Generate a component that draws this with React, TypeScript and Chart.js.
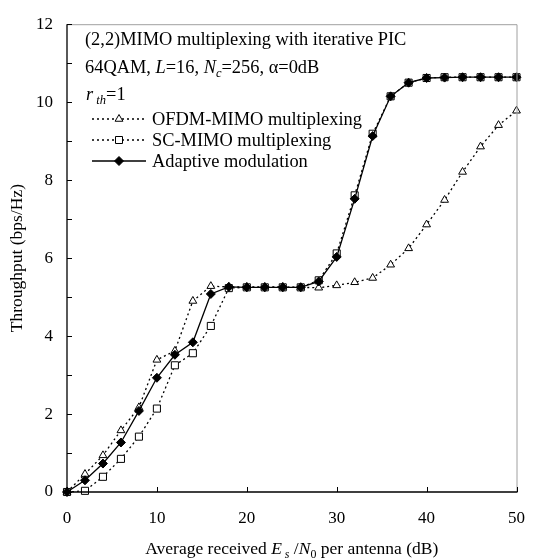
import React, { useEffect, useRef } from 'react';
import { Chart, registerables } from 'chart.js';
Chart.register(...registerables);

const snr = [0, 2, 4, 6, 8, 10, 12, 14, 16, 18, 20, 22, 24, 26, 28, 30, 32, 34, 36, 38, 40, 42, 44, 46, 48, 50];
const ofdm = [0, 0.46, 0.94, 1.58, 2.17, 3.39, 3.62, 4.9, 5.28, 5.26, 5.26, 5.26, 5.26, 5.25, 5.24, 5.3, 5.38, 5.49, 5.83, 6.25, 6.86, 7.49, 8.21, 8.86, 9.41, 9.78];
const sc = [0, 0.03, 0.39, 0.85, 1.42, 2.14, 3.25, 3.56, 4.26, 5.23, 5.25, 5.25, 5.25, 5.25, 5.43, 6.12, 7.61, 9.19, 10.15, 10.5, 10.62, 10.64, 10.64, 10.64, 10.64, 10.64];
const adaptive = [0, 0.3, 0.73, 1.27, 2.08, 2.93, 3.52, 3.84, 5.08, 5.26, 5.25, 5.25, 5.25, 5.25, 5.4, 6.03, 7.52, 9.13, 10.15, 10.5, 10.62, 10.63, 10.64, 10.64, 10.64, 10.64];
const xTickValues = [0, 10, 20, 30, 40, 50];
const yTickLabels = [0, 2, 4, 6, 8, 10, 12];
const legendLabels = ['OFDM-MIMO multiplexing', 'SC-MIMO multiplexing', 'Adaptive modulation'];

const SERIF = '"Liberation Serif", "Times New Roman", serif';

type Run = { t: string; i?: boolean; sub?: boolean };

function drawRuns(ctx: CanvasRenderingContext2D, runs: Run[], x: number, y: number, size: number, align: 'left' | 'center' = 'left') {
  const fontFor = (r: Run) => `${r.i ? 'italic ' : ''}${r.sub ? size * 0.68 : size}px ${SERIF}`;
  let total = 0;
  for (const r of runs) {
    ctx.font = fontFor(r);
    total += ctx.measureText(r.t).width;
  }
  let cx = align === 'center' ? x - total / 2 : x;
  ctx.textAlign = 'left';
  ctx.textBaseline = 'alphabetic';
  for (const r of runs) {
    ctx.font = fontFor(r);
    ctx.fillText(r.t, cx, r.sub ? y + size * 0.2 : y);
    cx += ctx.measureText(r.t).width;
  }
}

function drawMarker(ctx: CanvasRenderingContext2D, kind: number, x: number, y: number) {
  ctx.save();
  ctx.lineWidth = 1;
  ctx.strokeStyle = '#000';
  ctx.setLineDash([]);
  ctx.beginPath();
  if (kind === 0) {
    const r = 4.5;
    ctx.moveTo(x, y - r);
    ctx.lineTo(x + r * 0.866, y + r * 0.5);
    ctx.lineTo(x - r * 0.866, y + r * 0.5);
    ctx.closePath();
    ctx.fillStyle = '#fff';
    ctx.fill();
    ctx.stroke();
  } else if (kind === 1) {
    const s = 3.5;
    ctx.rect(x - s, y - s, 2 * s, 2 * s);
    ctx.fillStyle = '#fff';
    ctx.fill();
    ctx.stroke();
  } else {
    const r = 4.5;
    ctx.moveTo(x, y - r);
    ctx.lineTo(x + r, y);
    ctx.lineTo(x, y + r);
    ctx.lineTo(x - r, y);
    ctx.closePath();
    ctx.fillStyle = '#000';
    ctx.fill();
    ctx.stroke();
  }
  ctx.restore();
}

const decorPlugin = {
  id: 'decor',
  beforeDraw(chart: any) {
    const ctx = chart.ctx as CanvasRenderingContext2D;
    ctx.save();
    ctx.fillStyle = '#fff';
    ctx.fillRect(0, 0, chart.width, chart.height);
    ctx.restore();
  },
  afterDraw(chart: any) {
    const ctx = chart.ctx as CanvasRenderingContext2D;
    const { left, right, top, bottom } = chart.chartArea;
    const xs = chart.scales.x;
    const ys = chart.scales.y;
    ctx.save();
    ctx.strokeStyle = '#a0a0a0';
    ctx.lineWidth = 1;
    ctx.beginPath();
    ctx.moveTo(left, top + 0.5);
    ctx.lineTo(right + 0.5, top + 0.5);
    ctx.lineTo(right + 0.5, bottom);
    ctx.stroke();
    ctx.strokeStyle = '#000';
    ctx.lineWidth = 1.3;
    ctx.beginPath();
    ctx.moveTo(left, top);
    ctx.lineTo(left, bottom);
    ctx.lineTo(right + 1, bottom);
    ctx.stroke();
    ctx.lineWidth = 1;
    ctx.beginPath();
    for (const t of ys.ticks) {
      const py = Math.round(ys.getPixelForValue(t.value)) + 0.5;
      ctx.moveTo(left, py);
      ctx.lineTo(left + 5, py);
    }
    for (const v of xTickValues) {
      const px = Math.round(xs.getPixelForValue(v)) + 0.5;
      ctx.moveTo(px, bottom);
      ctx.lineTo(px, bottom - 5);
    }
    ctx.stroke();

    ctx.fillStyle = '#000';
    const fs = 18.4;
    drawRuns(ctx, [{ t: '(2,2)MIMO multiplexing with iterative PIC' }], 85, 45, fs);
    drawRuns(ctx, [
      { t: '64QAM, ' }, { t: 'L', i: true }, { t: '=16, ' }, { t: 'N', i: true }, { t: 'c', i: true, sub: true },
      { t: '=256, \u03b1=0dB' },
    ], 85, 73, fs);
    drawRuns(ctx, [{ t: 'r', i: true }, { t: ' th', i: true, sub: true }, { t: '=1' }], 86, 100, fs);

    const rowsY = [119, 140, 161];
    for (let k = 0; k < 3; k++) {
      const yy = rowsY[k];
      ctx.save();
      ctx.strokeStyle = '#000';
      ctx.lineWidth = 1.3;
      ctx.setLineDash(k < 2 ? [2, 3] : []);
      ctx.beginPath();
      ctx.moveTo(92, yy);
      ctx.lineTo(146, yy);
      ctx.stroke();
      ctx.restore();
      drawMarker(ctx, k, 119, yy);
      drawRuns(ctx, [{ t: legendLabels[k] }], 152, yy + 6, fs);
    }

    drawRuns(ctx, [
      { t: 'Average received ' }, { t: 'E', i: true }, { t: ' s', i: true, sub: true }, { t: ' /' },
      { t: 'N', i: true }, { t: '0', sub: true }, { t: ' per antenna (dB)' },
    ], (left + right) / 2, 554, 17.5, 'center');

    ctx.save();
    ctx.translate(22, (top + bottom) / 2);
    ctx.rotate(-Math.PI / 2);
    drawRuns(ctx, [{ t: 'Throughput (bps/Hz)' }], 0, 0, 17.5, 'center');
    ctx.restore();

    ctx.restore();
  },
};

export default function App() {
  const ref = useRef<HTMLCanvasElement | null>(null);
  useEffect(() => {
    if (!ref.current) return;
    const common = {
      borderColor: '#000',
      pointBorderColor: '#000',
      pointBorderWidth: 1,
      clip: false as any,
      tension: 0,
    };
    const chart = new Chart(ref.current, {
      type: 'line',
      data: {
        labels: snr,
        datasets: [
          {
            ...common,
            label: legendLabels[2],
            data: snr.map((x, i) => ({ x, y: adaptive[i] })),
            borderWidth: 1.3,
            pointStyle: 'rectRot',
            pointRadius: 4.5,
            pointBackgroundColor: '#000',
          },
          {
            ...common,
            label: legendLabels[1],
            data: snr.map((x, i) => ({ x, y: sc[i] })),
            borderWidth: 1.3,
            borderDash: [2, 3],
            pointStyle: 'rect',
            pointRadius: 5,
            pointBackgroundColor: '#fff',
          },
          {
            ...common,
            label: legendLabels[0],
            data: snr.map((x, i) => ({ x, y: ofdm[i] })),
            borderWidth: 1.3,
            borderDash: [2, 3],
            pointStyle: 'triangle',
            pointRadius: 4.5,
            pointBackgroundColor: '#fff',
          },
        ],
      },
      options: {
        animation: false,
        responsive: false,
        layout: { padding: { left: 0, right: 12, top: 20, bottom: 0 } },
        plugins: { legend: { display: false }, tooltip: { enabled: false } },
        scales: {
          x: {
            type: 'linear',
            min: 0,
            max: 50,
            afterFit: (s: any) => { s.height = 68; },
            grid: { display: false, drawTicks: false },
            border: { display: false },
            afterBuildTicks: (s: any) => { s.ticks = xTickValues.map((v) => ({ value: v })); },
            ticks: {
              padding: 16,
              color: '#000',
              font: { family: SERIF, size: 17 },
              maxRotation: 0,
            },
          },
          y: {
            type: 'linear',
            min: 0,
            max: 12,
            afterFit: (s: any) => { s.width = 67; },
            grid: { display: false, drawTicks: false },
            border: { display: false },
            ticks: {
              stepSize: 1,
              padding: 14,
              color: '#000',
              font: { family: SERIF, size: 17 },
              callback: (v: any) => (yTickLabels.includes(Number(v)) ? String(v) : ''),
            },
          },
        },
      },
      plugins: [decorPlugin],
    });
    return () => chart.destroy();
  }, []);
  return (
    <div style={{ position: 'absolute', left: 0, top: 0, width: 541, height: 560 }}>
      <canvas ref={ref} width={541} height={560} />
    </div>
  );
}
